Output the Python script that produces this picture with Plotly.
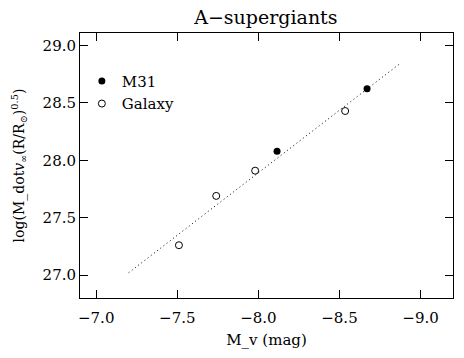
import plotly.graph_objects as go

m31_x = [-8.115, -8.67]
m31_y = [28.08, 28.625]
gal_x = [-7.51, -7.74, -7.98, -8.535]
gal_y = [27.26, 27.69, 27.91, 28.43]
fit_x = [-7.20, -8.87]
fit_y = [27.02, 28.84]

FONT = "DejaVu Serif"

fig = go.Figure()
fig.add_trace(go.Scatter(x=fit_x, y=fit_y, mode="lines",
                         line=dict(color="black", width=1, dash="1px,3px"),
                         showlegend=False, hoverinfo="skip"))
fig.add_trace(go.Scatter(x=m31_x, y=m31_y, mode="markers", name="M31",
                         marker=dict(symbol="circle", size=7, color="black")))
fig.add_trace(go.Scatter(x=gal_x, y=gal_y, mode="markers", name="Galaxy",
                         marker=dict(symbol="circle-open", size=7, color="black",
                                     line=dict(width=1))))

axis_common = dict(showgrid=False, zeroline=False, showline=True, linecolor="black",
                   linewidth=1, mirror="ticks", ticks="inside", ticklen=8,
                   tickcolor="black", automargin=False,
                   tickfont=dict(family=FONT, size=15, color="black"))

fig.update_layout(
    width=464, height=358,
    margin=dict(l=80, r=11, t=33, b=60),
    paper_bgcolor="white", plot_bgcolor="white",
    title=dict(text="A\u2212supergiants", x=0.573, xanchor="center", y=0.952, yanchor="middle",
               font=dict(family=FONT, size=19, color="black")),
    xaxis=dict(range=[-6.9, -9.2], tickvals=[-7.0, -7.5, -8.0, -8.5, -9.0],
               ticktext=["\u22127.0", "\u22127.5", "\u22128.0", "\u22128.5", "\u22129.0"],
               ticklabelstandoff=6,
               title=dict(text="M_v (mag)", font=dict(family=FONT, size=15, color="black"),
                          standoff=8),
               **axis_common),
    yaxis=dict(range=[26.8, 29.11], tickvals=[27.0, 27.5, 28.0, 28.5, 29.0],
               ticktext=["27.0", "27.5", "28.0", "28.5", "29.0"],
               title=dict(text="log(M_dot<i>v</i><sub>\u221e</sub>(R/R<sub>\u2299</sub>)<sup>0.5</sup>)",
                          font=dict(family=FONT, size=14, color="black"), standoff=14),
               **axis_common),
    legend=dict(x=0.005, y=0.88, xanchor="left", yanchor="top", bgcolor="rgba(0,0,0,0)",
                font=dict(family=FONT, size=15, color="black"), itemwidth=30,
                tracegroupgap=0),
    showlegend=True,
    hovermode=False,
)

fig.write_html("out.html", config={"displayModeBar": False, "staticPlot": True},
               post_script="document.body.style.margin='0';document.body.style.padding='0';")
